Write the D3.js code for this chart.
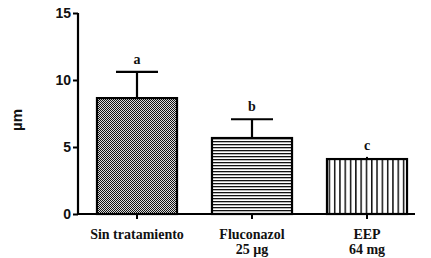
<!DOCTYPE html>
<html><head><meta charset="utf-8">
<script src="https://cdn.jsdelivr.net/npm/d3@7"></script>
<style>body{margin:0;background:#fff}svg{display:block}</style>
</head><body>
<script>
const categories = [["Sin tratamiento"], ["Fluconazol", "25 µg"], ["EEP", "64 mg"]];
const means = [8.65, 5.67, 4.1];
const errors = [1.95, 1.4, 0.08];
const letters = ["a", "b", "c"];
const yTicks = [0, 5, 10, 15];
const patterns = ["checker", "hlines", "vlines"];

const W = 431, H = 258;
const svg = d3.select("body").append("svg").attr("width", W).attr("height", H);
const defs = svg.append("defs");

const p1 = defs.append("pattern").attr("id", "checker").attr("patternUnits", "userSpaceOnUse").attr("width", 2).attr("height", 2);
p1.append("rect").attr("width", 2).attr("height", 2).attr("fill", "#ddd");
p1.append("rect").attr("width", 1).attr("height", 1).attr("fill", "#111");
p1.append("rect").attr("x", 1).attr("y", 1).attr("width", 1).attr("height", 1).attr("fill", "#111");

const p2 = defs.append("pattern").attr("id", "hlines").attr("patternUnits", "userSpaceOnUse").attr("width", 4).attr("height", 3);
p2.append("rect").attr("width", 4).attr("height", 3).attr("fill", "#fff");
p2.append("rect").attr("width", 4).attr("height", 1.3).attr("fill", "#111");

const p3 = defs.append("pattern").attr("id", "vlines").attr("patternUnits", "userSpaceOnUse").attr("width", 5.3).attr("height", 4);
p3.append("rect").attr("width", 5.3).attr("height", 4).attr("fill", "#fff");
p3.append("rect").attr("width", 1.5).attr("height", 4).attr("fill", "#111");

const y = d3.scaleLinear().domain([0, 15]).range([214, 13]);
const x = d3.scaleBand().domain(d3.range(categories.length)).range([78, 426]).paddingInner(0.304).paddingOuter(0.165);

// y axis
const yAxis = d3.axisLeft(y).tickValues(yTicks).tickSize(5).tickSizeOuter(0).tickPadding(2);
const gy = svg.append("g").attr("transform", "translate(78,0)").call(yAxis);
gy.select(".domain").attr("stroke-width", 2.2).attr("d", `M0,${y(15)}V${y(0)}`);
gy.selectAll(".tick line").attr("stroke-width", 2);
gy.selectAll(".tick text").attr("font-family", "Liberation Sans, Arial, sans-serif").attr("font-weight", "bold").attr("font-size", 14).attr("fill", "#111");

// bars
const bars = svg.append("g");
bars.selectAll("rect").data(means).join("rect")
  .attr("x", (d, i) => x(i)).attr("width", x.bandwidth())
  .attr("y", d => y(d)).attr("height", d => y(0) - y(d))
  .attr("fill", (d, i) => `url(#${patterns[i]})`)
  .attr("stroke", "#000").attr("stroke-width", 2.2);

// error bars
const eg = svg.append("g").attr("stroke", "#000").attr("stroke-width", 2.2);
means.forEach((m, i) => {
  const cx = x(i) + x.bandwidth() / 2;
  const capW = i === 2 ? 1 : 21;
  eg.append("line").attr("x1", cx).attr("x2", cx).attr("y1", y(m)).attr("y2", y(m + errors[i]));
  eg.append("line").attr("x1", cx - capW).attr("x2", cx + capW).attr("y1", y(m + errors[i])).attr("y2", y(m + errors[i]));
});

// letters
svg.append("g").selectAll("text").data(letters).join("text")
  .attr("x", (d, i) => x(i) + x.bandwidth() / 2)
  .attr("y", (d, i) => y(means[i] + errors[i]) - 8)
  .attr("text-anchor", "middle")
  .attr("font-family", "Liberation Serif, Times New Roman, serif").attr("font-weight", "bold").attr("font-size", 14)
  .attr("fill", "#111").text(d => d);

// x axis
svg.append("line").attr("x1", 77).attr("x2", 415).attr("y1", y(0)).attr("y2", y(0)).attr("stroke", "#000").attr("stroke-width", 2.2);
const xt = svg.append("g");
categories.forEach((c, i) => {
  const cx = x(i) + x.bandwidth() / 2;
  xt.append("line").attr("x1", cx).attr("x2", cx).attr("y1", y(0)).attr("y2", y(0) + 5).attr("stroke", "#000").attr("stroke-width", 2);
  const t = xt.append("text").attr("x", cx).attr("y", 239).attr("text-anchor", "middle")
    .attr("font-family", "Liberation Serif, Times New Roman, serif").attr("font-weight", "bold").attr("font-size", 14).attr("fill", "#111");
  c.forEach((line, j) => t.append("tspan").attr("x", cx).attr("dy", j === 0 ? 0 : 15).text(line));
});

// y title
svg.append("text").attr("transform", "translate(22,120) rotate(-90)").attr("text-anchor", "middle")
  .attr("font-family", "Liberation Sans, Arial, sans-serif").attr("font-weight", "bold").attr("font-size", 15)
  .attr("fill", "#111").text("µm");
</script>
</body></html>
